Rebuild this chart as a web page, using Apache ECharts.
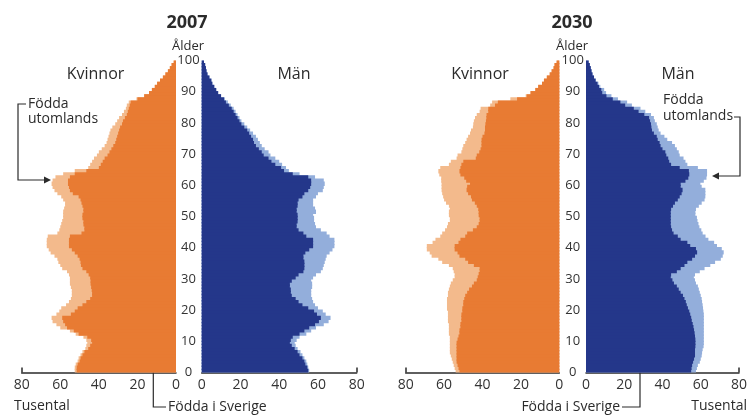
<!DOCTYPE html>
<html>
<head>
<meta charset="utf-8">
<script src="https://cdn.jsdelivr.net/npm/echarts@6/dist/echarts.min.js"></script>
<style>
  html, body { margin: 0; padding: 0; background: #fff; }
  #chart { width: 750px; height: 416px; }
</style>
</head>
<body>
<div id="chart"></div>
<script>
"use strict";

// ages 0..99, one bar per year
var ages = [];
for (var i = 0; i < 100; i++) ages.push(String(i));

var xTicks = [0, 20, 40, 60, 80];
var ageTicks = [0, 10, 20, 30, 40, 50, 60, 70, 80, 90, 100];

// thousands per one-year age group; "total" = born in Sweden + born abroad
var women2007Total = [
  52.5, 52.5, 52, 51, 50.5, 49.5, 48.5, 47, 46.5, 46,
  46.5, 48, 52, 55, 60, 62, 64, 64.5, 62, 60.5,
  59.5, 57, 55.5, 54.5, 54, 54, 54, 54.5, 55, 55,
  55, 55.5, 56.5, 59, 60, 61, 61.5, 63, 65, 66,
  67, 67, 67, 66.5, 61.5, 60.5, 60, 59.5, 59, 58.5,
  58.5, 58.5, 58, 57.5, 57.5, 58.5, 59.5, 61.5, 63, 64,
  64.5, 64, 62.5, 58.5, 52.5, 45.5, 44.5, 43.5, 42.5, 41,
  40, 38.5, 37, 36, 35.5, 35, 34.5, 34, 33, 31.5,
  30.5, 29.5, 28, 27, 26, 25.5, 24.5, 20.5, 16.5, 14,
  12.5, 11, 9.8, 8.3, 6.8, 5.5, 4.2, 3.2, 2.3, 1.2
];
var women2007Sweden = [
  51.5, 51.5, 51, 50, 49.5, 48.5, 47.5, 45.5, 44.5, 43.5,
  44, 46, 50.5, 53, 56.5, 57.5, 58.5, 59, 54.5, 52.5,
  51, 48.5, 46.5, 44.5, 43.5, 43.5, 43.7, 44, 44.3, 44.3,
  44.5, 45.3, 46.5, 48.5, 49.3, 49.5, 50, 51, 52.5, 54,
  55.5, 55.5, 55.5, 55, 49, 47.5, 47.5, 48, 48, 48.5,
  48.5, 48, 48, 48.5, 49, 49.5, 50.5, 53.5, 55, 55.5,
  56, 56, 55, 52.5, 46.5, 40, 39, 38, 37, 35.5,
  34.5, 33.5, 32.5, 31.5, 31, 30.5, 30, 29.5, 29, 28,
  27.5, 26.5, 25.5, 25, 24.5, 24, 23.5, 20, 16.5, 14,
  12.5, 11, 9.8, 8.3, 6.8, 5.5, 4.2, 3.2, 2.3, 1.2
];
var men2007Total = [
  55.5, 55, 54.5, 54, 53, 52, 51, 49.5, 48.5, 48,
  49, 50.5, 54, 56.5, 59, 63, 65.5, 66.5, 64, 62.5,
  60, 58.5, 57.5, 57, 56.5, 56.5, 56.5, 57, 57, 56.5,
  57.5, 59, 61.5, 62.5, 63, 63.5, 64, 64.5, 66, 67.5,
  68.5, 68.5, 68.5, 66, 64.5, 61.5, 59, 58.5, 58, 58,
  57.5, 59, 58.5, 57.5, 57.5, 57.5, 59, 60, 62.5, 63,
  63.5, 63, 58.5, 50.5, 45, 43.5, 41.5, 40, 38, 35.5,
  34.5, 32.5, 31, 30, 29, 28, 26.5, 25, 23.5, 22,
  20.5, 19.5, 18.5, 17.5, 16.5, 15, 13.5, 12, 10, 8.5,
  7.5, 6.5, 5.5, 5, 4, 3, 2.5, 2.2, 1.8, 1.2
];
var men2007Sweden = [
  55, 54.5, 53.5, 53, 52, 50.5, 49.5, 48, 46.5, 45.5,
  46, 47, 50.5, 53, 55.5, 58.5, 60.5, 61.5, 59.5, 58,
  55, 52, 50, 48.5, 46.5, 46, 46, 45.5, 45.5, 46.5,
  48.5, 50, 52.5, 53, 53, 53, 52.5, 52.5, 53.5, 55.5,
  57.5, 57.5, 57.5, 54, 52.5, 50, 49, 49, 49.5, 49.5,
  49.5, 49, 49, 49.5, 49.5, 50, 52, 53, 55, 56,
  56.5, 56.5, 55, 47, 42.5, 41, 38, 36, 34.5, 32,
  31, 29.5, 28, 27, 26.5, 25.5, 24.5, 23.5, 22, 20.5,
  19.5, 18.5, 17.5, 16.5, 15.5, 14, 12.5, 11.5, 10, 8.5,
  7.5, 6.5, 5.5, 5, 4, 3, 2.5, 2.2, 1.8, 1.2
];
var women2030Total = [
  54, 54.5, 55, 55.5, 56, 56.5, 57, 57, 57, 57,
  57, 57, 57.5, 57.5, 57.5, 57.5, 58, 58, 58, 58,
  58.5, 58.5, 58.5, 58.5, 58, 58, 57.5, 57, 56.5, 55.5,
  54.5, 54.5, 55, 55.5, 57.5, 61, 63, 66.5, 67.5, 69,
  69, 66, 64.5, 62, 61, 59.5, 58.5, 58, 57, 57,
  57.5, 57.5, 57, 57.5, 59, 60, 60.5, 61, 61.3, 61.3,
  61.3, 61.5, 61.5, 62.5, 63, 62, 57.5, 56.5, 53.5, 53,
  51, 50.5, 50, 49, 48.3, 47.5, 46.5, 46, 45, 44.8,
  44.5, 43.9, 43, 41.5, 41, 36, 35, 25.5, 17.5, 15,
  12.5, 11, 9, 8, 6.5, 5, 4, 3, 2.5, 1.4
];
var women2030Sweden = [
  52, 52.5, 53, 53.5, 53.5, 53.5, 53.5, 53.5, 53.5, 53.5,
  53, 52.5, 52, 52, 51.5, 51.5, 51, 51, 51, 50.5,
  50.5, 50, 50, 49.5, 49, 48, 47, 45.5, 44.5, 43,
  42.5, 42, 41.5, 41.5, 44.5, 47.5, 49, 52, 53, 54.5,
  54.5, 52.5, 51.5, 49, 48, 45, 43, 42, 41.5, 41.5,
  42, 42, 42.2, 43, 44, 45.5, 46, 47.5, 48.3, 48,
  46.5, 48.5, 49.5, 51.5, 52, 51.5, 51, 50, 43.5, 43,
  41.7, 41, 40.5, 40.5, 40.5, 40, 39, 38.7, 38.7, 38.5,
  38.2, 38, 37.9, 37, 37, 33.5, 32, 22, 17, 15,
  12.5, 11, 9, 8, 6.5, 5, 4, 3, 2.5, 1.4
];
var men2030Total = [
  57.5, 58, 58.5, 59.5, 60, 60.5, 60.7, 61, 61.5, 61.6,
  61.6, 61.6, 61.6, 61.6, 61.6, 61.6, 61.6, 61.6, 61.6, 61.4,
  61.2, 61, 60.7, 60.5, 60, 59.5, 59, 58.5, 57.5, 57,
  56.4, 57, 59.5, 62, 65, 67.5, 70.5, 71.5, 72, 71,
  68.5, 67, 64, 62.5, 61, 60.3, 59.3, 58.8, 58.3, 58,
  57.2, 57.2, 57.5, 59, 60.5, 62, 62.4, 62.4, 62.4, 60.5,
  59.8, 61.6, 63, 63.3, 63.3, 58.5, 53, 52, 51, 49,
  48.5, 47.5, 46.5, 45, 42.5, 41, 39, 38, 37.5, 37,
  36, 35.5, 34, 31, 28.5, 24, 21.5, 16.7, 13.3, 10.5,
  9.5, 7.5, 6.5, 5.2, 4.2, 3.4, 2.9, 2.5, 2, 1.4
];
var men2030Sweden = [
  55, 55.2, 55.5, 56, 56.5, 57, 57, 57, 57.2, 57.2,
  57.2, 57, 56.8, 56.5, 56.2, 55.8, 55.3, 55, 54.5, 54,
  53.3, 52.7, 52.2, 51.5, 50.7, 49.5, 48.5, 47.5, 46, 45.2,
  44.3, 44.5, 47.5, 49.5, 51.5, 53, 55.5, 57, 58.1, 57.5,
  54.5, 53, 49.5, 48, 45.8, 45, 44.5, 44.3, 44.3, 44.3,
  44.3, 44.3, 44.5, 45.5, 46.5, 48, 49, 50, 50.5, 49.5,
  49.5, 52, 53.5, 54, 53.8, 49, 44.5, 43.5, 43, 42,
  41.5, 40, 39, 38.5, 37.5, 37, 35.5, 34.5, 34.2, 34,
  33.5, 33, 30.5, 27.5, 25, 20.5, 18, 14, 10.7, 8.5,
  8, 6.8, 6, 5, 4.2, 3.4, 2.9, 2.5, 2, 1.4
];

var FONT = "'Open Sans', 'Noto Sans', sans-serif";
var INK = "#2b2b2b";
var ORANGE = "#e87b33", ORANGE_LIGHT = "#f3ba8c";
var BLUE = "#24378a", BLUE_LIGHT = "#93aedb";

var chart = echarts.init(document.getElementById("chart"), null, { renderer: "canvas" });

// four plot boxes: women 2007, men 2007, women 2030, men 2030
var grids = [
  { left: 21.7, top: 60.5, width: 154.3, height: 312 },
  { left: 201.7, top: 60.5, width: 155, height: 312 },
  { left: 405.7, top: 60.5, width: 153.6, height: 312 },
  { left: 586, top: 60.5, width: 154.7, height: 312 }
];

function xAxisFor(idx, inverse) {
  return {
    type: "value",
    gridIndex: idx,
    min: 0,
    max: 80,
    interval: 20,
    inverse: inverse,
    axisLine: { show: true, onZero: false, lineStyle: { color: INK, width: 1.5 } },
    axisTick: { show: true, inside: true, length: 5, customValues: [80], lineStyle: { color: INK, width: 1.5 } },
    axisLabel: { fontSize: 14, color: "#333", margin: 6, fontFamily: FONT, customValues: xTicks },
    splitLine: { show: false }
  };
}

function catAxisFor(idx) {
  return {
    type: "category",
    gridIndex: idx,
    data: ages,
    show: false,
    boundaryGap: true
  };
}

function ageAxisFor(idx, margin) {
  return {
    type: "value",
    gridIndex: idx,
    position: "right",
    min: 0,
    max: 100,
    interval: 10,
    axisLine: { show: false },
    axisTick: { show: false },
    splitLine: { show: false },
    axisLabel: { align: "center", margin: margin, fontSize: 13, color: "#333", fontFamily: FONT, customValues: ageTicks }
  };
}

function barPair(idx, total, sweden, light, dark) {
  // bars over one pixel wider than an age band, so neighbours overlap and no seams show
  var common = {
    type: "bar",
    xAxisIndex: idx,
    yAxisIndex: idx,
    barWidth: 4.4,
    barGap: "-100%",
    silent: true
  };
  return [
    Object.assign({}, common, {
      name: "Födda utomlands",
      data: total,
      itemStyle: { color: light }
    }),
    Object.assign({}, common, {
      name: "Födda i Sverige",
      data: sweden,
      itemStyle: { color: dark }
    })
  ];
}

function label(x, y, text, size, align, weight) {
  return {
    type: "text",
    x: x,
    y: y,
    silent: true,
    style: {
      text: text,
      fill: INK,
      font: (weight || "normal") + " " + size + "px " + FONT,
      align: align || "center",
      verticalAlign: "middle"
    }
  };
}

function connector(points, tip, dir) {
  // arrowhead: small filled triangle pointing in dir
  var s = 3.5, l = 7, head;
  if (dir === "up") head = [[tip[0], tip[1]], [tip[0] - s, tip[1] + l], [tip[0] + s, tip[1] + l]];
  else if (dir === "right") head = [[tip[0], tip[1]], [tip[0] - l, tip[1] - s], [tip[0] - l, tip[1] + s]];
  else head = [[tip[0], tip[1]], [tip[0] + l, tip[1] - s], [tip[0] + l, tip[1] + s]];
  return [
    { type: "polyline", silent: true, shape: { points: points }, style: { stroke: INK, lineWidth: 1.2, fill: null } },
    { type: "polygon", silent: true, shape: { points: head }, style: { fill: INK } }
  ];
}

var graphics = [
  label(187, 23, "2007", 18, "center", "bold"),
  label(572, 23, "2030", 18, "center", "bold"),
  label(188, 46, "Ålder", 13),
  label(572, 46, "Ålder", 13),
  label(95.5, 74, "Kvinnor", 16),
  label(294, 74, "Män", 16),
  label(480, 74, "Kvinnor", 16),
  label(678, 74, "Män", 16),
  label(28, 104, "Födda", 14, "left"),
  label(28, 119, "utomlands", 14, "left"),
  label(663, 100, "Födda", 14, "left"),
  label(663, 116, "utomlands", 14, "left"),
  label(14, 406, "Tusental", 14, "left"),
  label(747, 406, "Tusental", 14, "right"),
  label(168, 407, "Födda i Sverige", 14, "left"),
  label(620, 407, "Födda i Sverige", 14, "right")
]
  .concat(connector([[26, 104], [18, 104], [18, 180], [45, 180]], [51, 180], "right"))
  .concat(connector([[166, 407], [153.3, 407], [153.3, 362]], [153.3, 356.5], "up"))
  .concat(connector([[734, 117], [740, 117], [740, 176], [718, 176]], [712, 176], "left"))
  .concat(connector([[622, 407], [640, 407], [640, 362]], [640, 356.5], "up"));

chart.setOption({
  animation: false,
  textStyle: { fontFamily: FONT },
  grid: grids,
  xAxis: [xAxisFor(0, true), xAxisFor(1, false), xAxisFor(2, true), xAxisFor(3, false)],
  yAxis: [catAxisFor(0), catAxisFor(1), catAxisFor(2), catAxisFor(3), ageAxisFor(0, 12.5), ageAxisFor(2, 13.4)],
  series: []
    .concat(barPair(0, women2007Total, women2007Sweden, ORANGE_LIGHT, ORANGE))
    .concat(barPair(1, men2007Total, men2007Sweden, BLUE_LIGHT, BLUE))
    .concat(barPair(2, women2030Total, women2030Sweden, ORANGE_LIGHT, ORANGE))
    .concat(barPair(3, men2030Total, men2030Sweden, BLUE_LIGHT, BLUE)),
  graphic: graphics
});
</script>
</body>
</html>
